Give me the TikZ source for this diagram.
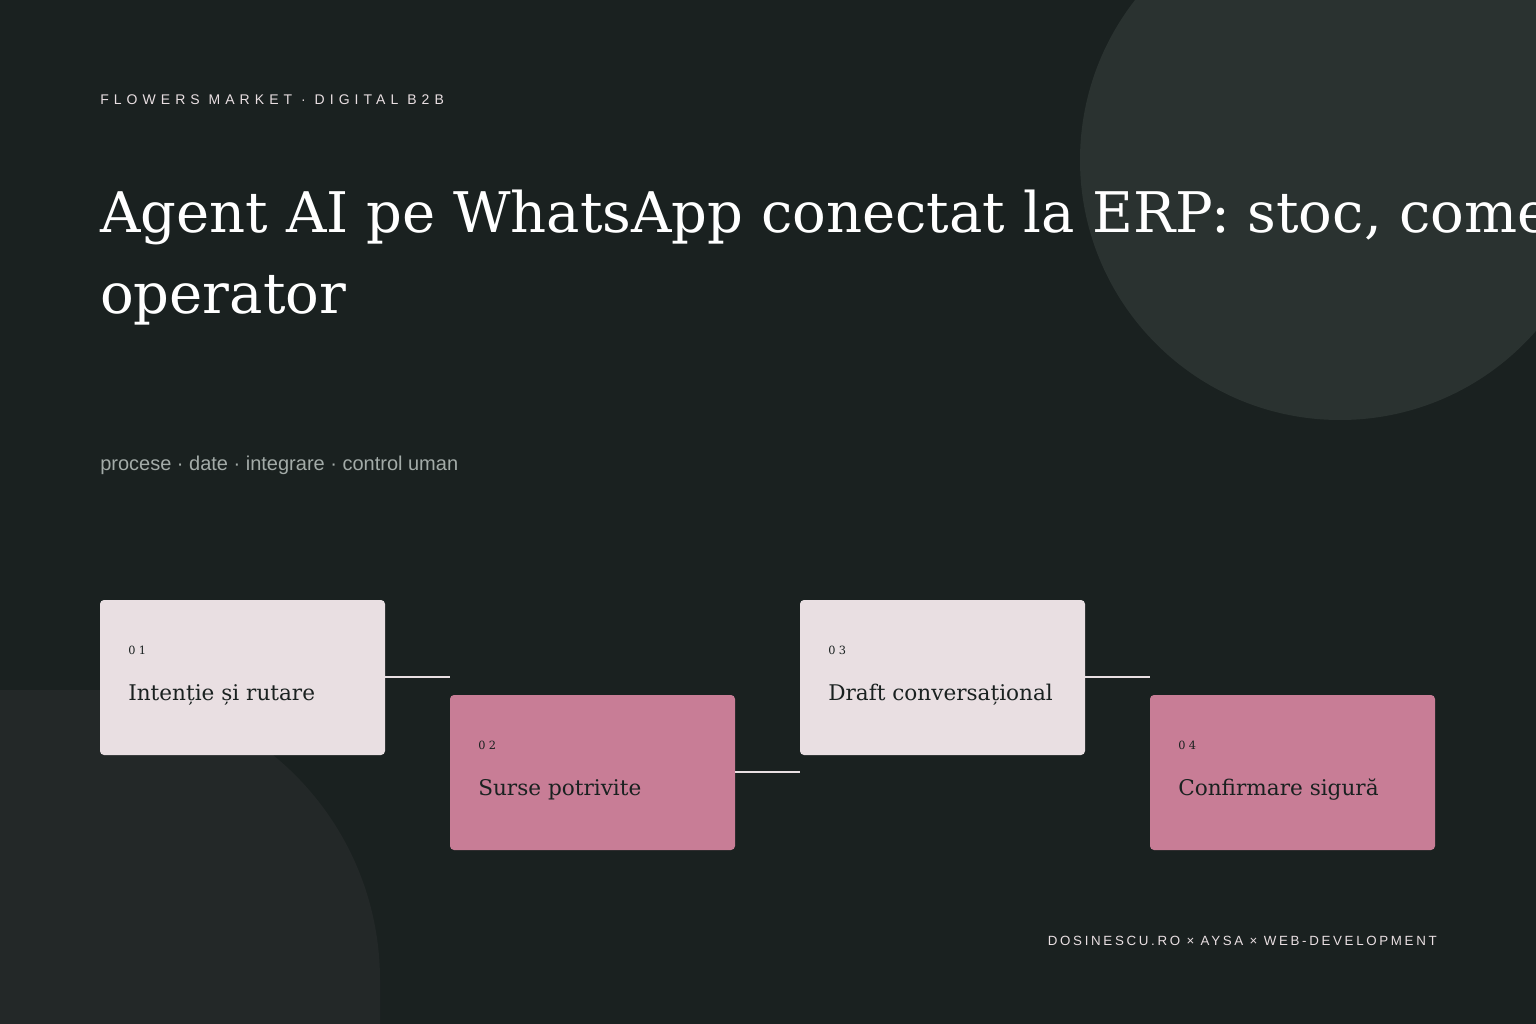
\documentclass[tikz,border=0pt]{standalone}
\usepackage{fontspec}
\setmainfont{DejaVu Serif}
\newfontfamily\sansf{Liberation Sans}
\newfontfamily\spaced[LetterSpace=36]{Liberation Sans}
\newfontfamily\spacedb[LetterSpace=20]{Liberation Sans}
\newfontfamily\numf[LetterSpace=30]{DejaVu Serif}
\definecolor{bg}{HTML}{1A2120}
\definecolor{circ}{HTML}{2A3230}
\definecolor{circb}{HTML}{232828}
\definecolor{light}{HTML}{E9DFE2}
\definecolor{pink}{HTML}{C87D96}
\definecolor{sub}{HTML}{A3ABA8}
\begin{document}
\begin{tikzpicture}[x=0.75pt,y=-0.75pt,
  box/.style={rounded corners=3pt},
  num/.style={anchor=base west,inner sep=0pt,text=bg,font=\numf\fontsize{8.5}{10}\selectfont},
  lab/.style={anchor=base west,inner sep=0pt,text=bg,font=\fontsize{16.2}{20}\selectfont},
  conn/.style={draw=light,line width=2.2pt}]
\useasboundingbox (0,0) rectangle (1536,1024);
\begin{scope}
\clip (0,0) rectangle (1536,1024);
\fill[bg] (0,0) rectangle (1536,1024);
\fill[circ] (1340,160) circle[radius=260];
\fill[circb] (0,690) -- (90,690) arc[start angle=-90,end angle=0,radius=290] -- (380,1024) -- (0,1024) -- cycle;
\node[anchor=base west,inner sep=0pt,text=white,font=\fontsize{42}{60}\selectfont] (t1) at (100,232) {Agent AI pe WhatsApp conectat la ERP: stoc, comenzi, operator};
\end{scope}
\node[anchor=base west,inner sep=0pt,text=white,font=\fontsize{42}{60}\selectfont] (t2) at (100,313) {operator};
\node[anchor=base west,inner sep=0pt,text=light,font=\spaced\fontsize{10.5}{12}\selectfont] (top) at (100,105) {FLOWERS MARKET · DIGITAL B2B};
\node[anchor=base west,inner sep=0pt,text=sub,font=\sansf\fontsize{15}{17}\selectfont] (st) at (100,470) {procese · date · integrare · control uman};
\node[anchor=base east,inner sep=0pt,text=light,font=\spacedb\fontsize{10}{12}\selectfont] (ft) at (1437,945) {DOSINESCU.RO × AYSA × WEB-DEVELOPMENT};

\path[box,fill=light] (100,600) rectangle (385,755);
\path[box,fill=pink] (450,695) rectangle (735,850);
\path[box,fill=light] (800,600) rectangle (1085,755);
\path[box,fill=pink] (1150,695) rectangle (1435,850);
\coordinate (c1a) at (385,677); \coordinate (c1b) at (450,677);
\coordinate (c2a) at (735,772); \coordinate (c2b) at (800,772);
\coordinate (c3a) at (1085,677); \coordinate (c3b) at (1150,677);
\draw[conn] (c1a) -- (c1b);
\draw[conn] (c2a) -- (c2b);
\draw[conn] (c3a) -- (c3b);
\node[num] (n1) at (128,654) {01};
\node[lab] (l1) at (128,700) {Intenție și rutare};
\node[num] (n2) at (478,749) {02};
\node[lab] (l2) at (478,795) {Surse potrivite};
\node[num] (n3) at (828,654) {03};
\node[lab] (l3) at (828,700) {Draft conversațional};
\node[num] (n4) at (1178,749) {04};
\node[lab] (l4) at (1178,795) {Confirmare sigură};
\end{tikzpicture}
\end{document}
